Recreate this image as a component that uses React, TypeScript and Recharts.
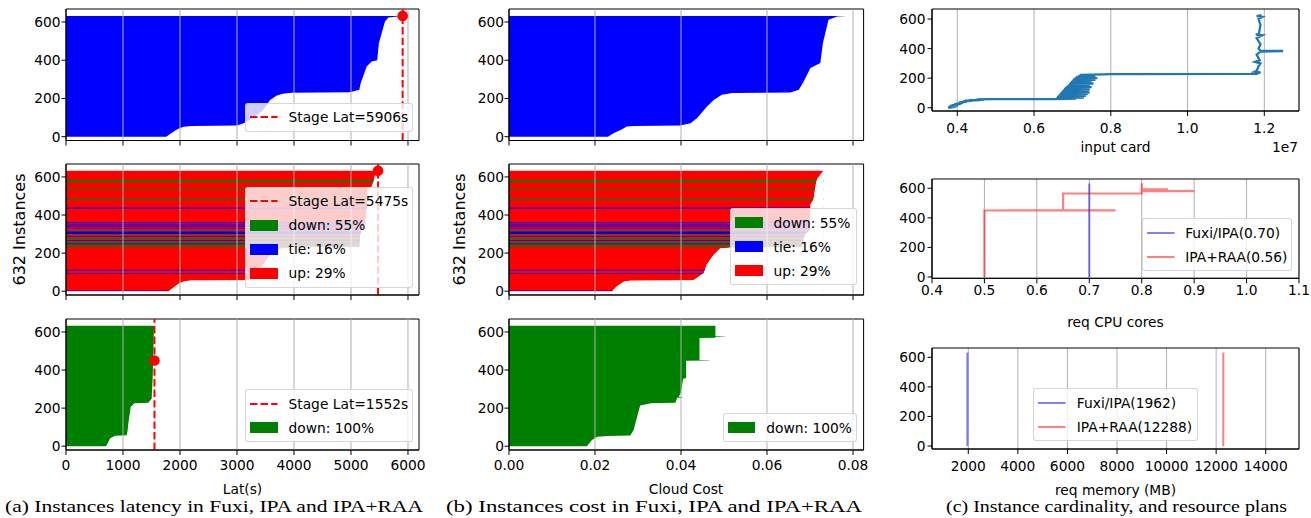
import React from "react";
import {
  ComposedChart,
  Area,
  Line,
  XAxis,
  YAxis,
  CartesianGrid,
  ReferenceLine,
  ReferenceDot,
  ReferenceArea,
} from "recharts";

const FONT = "DejaVu Sans";
const FS = 13.8;

// [instance index, bar end] (instances sorted)
const fuxiLat = [
  [0, 1760], [15, 1830], [40, 1960], [52, 2060], [56, 2200], [58, 2990], [66, 3080],
  [80, 3180], [100, 3300], [140, 3460], [192, 3580], [215, 3700], [225, 3800], [230, 3950],
  [233, 4980], [245, 5146], [280, 5170], [367, 5275], [393, 5363], [400, 5460], [490, 5490],
  [603, 5596], [624, 5655], [628, 5780], [632, 5890],
];
const ipaLat = [
  [0, 1800], [15, 1870], [40, 1980], [52, 2080], [56, 2200], [58, 3200], [79, 3290],
  [100, 3350], [140, 3460], [192, 3580], [215, 3690], [225, 3800], [229, 3950], [231, 5150],
  [300, 5165], [355, 5250], [440, 5280], [540, 5290], [548, 5363], [583, 5403], [609, 5421],
  [632, 5470],
];
const raaLat = [
  [0, 700], [20, 740], [41, 772], [55, 860], [57, 1065], [80, 1080], [119, 1093],
  [206, 1135], [226, 1200], [228, 1444], [249, 1503], [361, 1521], [632, 1544],
];
const fuxiCost = [
  [0, 0.023], [18, 0.0243], [39, 0.0263], [53, 0.0274], [56, 0.029], [58, 0.0398],
  [70, 0.0422], [96, 0.0437], [157, 0.046], [192, 0.0476], [219, 0.0495], [228, 0.0519],
  [231, 0.0654], [245, 0.0674], [288, 0.0685], [359, 0.0701], [385, 0.0724], [490, 0.073],
  [612, 0.0743], [629, 0.0763], [632, 0.0786],
];
const ipaCost = [
  [0, 0.024], [26, 0.0251], [49, 0.0267], [55, 0.028], [57, 0.0429], [96, 0.0453],
  [140, 0.046], [192, 0.0476], [224, 0.0491], [229, 0.052], [231, 0.068], [300, 0.0689],
  [320, 0.07], [455, 0.0701], [480, 0.0708], [580, 0.0715], [590, 0.0717], [612, 0.0724],
  [632, 0.0731],
];
const raaCost = [
  [0, 0.0181], [33, 0.0193], [50, 0.0205], [54, 0.023], [56, 0.0282], [85, 0.029],
  [154, 0.0298], [214, 0.0305], [226, 0.033], [228, 0.0387], [255, 0.0391], [256, 0.0403],
  [259, 0.0403], [260, 0.0395], [283, 0.04], [353, 0.0405], [360, 0.0412], [449, 0.0412],
  [450, 0.0467], [452, 0.0467], [453, 0.0443], [568, 0.0443], [569, 0.048], [575, 0.048],
  [576, 0.0503], [578, 0.0503], [579, 0.048], [632, 0.048],
];

// IPA instances that went down / tied (instance ranges), the rest are "up"
const downRanges = [
  [574, 584], [532, 537], [479, 485], [316, 320], [294, 298], [272, 279], [251, 259], [234, 243],
];
const tieRanges = [
  [433, 439], [357, 363], [345, 350], [337, 341], [329, 333], [300, 313], [285, 289],
  [264, 268], [247, 250], [107, 112], [90, 94], [1, 4],
];

const stageLat = [5906, 5475, 1552];
const stageDotAt = [632, 632, 450];

// [instance, input cardinality]
const inputCard = [
  [0, 3.85e6], [2, 3.76e6], [4, 3.95e6], [6, 3.78e6], [8, 3.98e6], [10, 3.8e6], [12, 4.0e6],
  [14, 3.82e6], [16, 4.02e6], [18, 3.86e6], [21, 4.05e6], [24, 3.92e6], [27, 4.1e6],
  [30, 3.98e6], [33, 4.15e6], [36, 4.05e6], [40, 4.25e6], [44, 4.15e6], [46, 4.4e6],
  [48, 4.2e6], [50, 4.6e6], [52, 4.3e6], [54, 4.7e6], [56, 4.5e6], [58, 4.9e6], [59, 6.55e6],
  [62, 7.1e6], [65, 6.58e6], [68, 7.3e6], [71, 6.6e6], [74, 7.2e6], [77, 6.62e6], [80, 7.35e6],
  [83, 6.64e6], [86, 7.2e6], [89, 6.66e6], [92, 7.4e6], [95, 6.68e6], [98, 7.3e6],
  [101, 6.7e6], [104, 7.45e6], [107, 6.72e6], [110, 7.25e6], [113, 6.74e6], [116, 7.4e6],
  [119, 6.76e6], [122, 7.45e6], [125, 6.78e6], [128, 7.3e6], [131, 6.8e6], [134, 7.4e6],
  [137, 6.82e6], [140, 7.5e6], [143, 6.85e6], [146, 7.35e6], [149, 6.88e6], [152, 7.45e6],
  [155, 6.9e6], [158, 7.4e6], [161, 6.92e6], [164, 7.55e6], [167, 6.94e6], [170, 7.4e6],
  [173, 6.96e6], [176, 7.5e6], [179, 6.98e6], [182, 7.45e6], [185, 7.0e6], [188, 7.6e6],
  [191, 7.02e6], [194, 7.5e6], [197, 7.05e6], [200, 7.65e6], [203, 7.08e6], [206, 7.55e6],
  [209, 7.1e6], [212, 7.6e6], [215, 7.15e6], [218, 7.5e6], [222, 7.2e6], [226, 7.8e6],
  [228, 8.0e6], [229, 1.18e7], [240, 1.19e7], [244, 1.175e7], [250, 1.18e7], [280, 1.185e7],
  [300, 1.19e7], [310, 1.176e7], [320, 1.188e7], [360, 1.18e7], [380, 1.19e7], [384, 1.249e7],
  [386, 1.19e7], [400, 1.185e7], [430, 1.19e7], [470, 1.18e7], [490, 1.195e7], [494, 1.178e7],
  [500, 1.186e7], [560, 1.19e7], [600, 1.185e7], [615, 1.195e7], [620, 1.18e7], [625, 1.19e7],
  [632, 1.19e7],
];
const fuxiCpu = [[0, 0.7], [632, 0.7]];
const raaCpu = [
  [0, 0.5], [450, 0.5], [451, 0.75], [452, 0.65], [565, 0.65], [566, 0.8], [580, 0.8],
  [581, 0.9], [582, 0.8], [592, 0.8], [593, 0.85], [594, 0.8], [634, 0.8],
];
const fuxiMem = [[0, 1962], [632, 1962]];
const raaMem = [[0, 12288], [632, 12288]];

const latTicks = [0, 1000, 2000, 3000, 4000, 5000, 6000];
const costTicks = [0, 0.02, 0.04, 0.06, 0.08];
const cardTicks = [4e6, 6e6, 8e6, 1e7, 1.2e7];
const cpuTicks = [0.4, 0.5, 0.6, 0.7, 0.8, 0.9, 1.0, 1.1];
const memTicks = [2000, 4000, 6000, 8000, 10000, 12000, 14000];
const instTicks = [0, 200, 400, 600];

const toPts = (rows: number[][]) => rows.map(([y, x]) => ({ y, x }));

type Box = { l: number; t: number; w: number; h: number };

function Panel(props: {
  box: Box;
  layout: "vertical" | "horizontal";
  xDomain: [number, number];
  yDomain: [number, number];
  xTicks: number[];
  fmt?: (v: number) => string;
  xGap: number;
  yGap: number;
  children: React.ReactNode;
}) {
  const { box, layout, xDomain, yDomain, xTicks, fmt, xGap, yGap, children } = props;
  const YW = 50, MT = 6, MR = 14, XH = 34;
  const tick = { fontSize: FS, fill: "#000", fontFamily: FONT };
  return (
    <div style={{ position: "absolute", left: box.l - YW, top: box.t - MT }}>
      <ComposedChart
        width={box.w + YW + MR}
        height={box.h + MT + XH}
        layout={layout}
        margin={{ top: MT, right: MR, bottom: 0, left: 0 }}
      >
        {children}
        <ReferenceArea
          x1={xDomain[0]} x2={xDomain[1]} y1={yDomain[0]} y2={yDomain[1]}
          fill="none" fillOpacity={0} stroke="#000" strokeWidth={1} ifOverflow="visible"
        />
        <XAxis
          type="number"
          dataKey={layout === "horizontal" ? "x" : undefined}
          domain={xDomain}
          allowDataOverflow
          ticks={xTicks}
          interval={0}
          tickFormatter={fmt ?? (() => "")}
          tick={tick}
          tickSize={5}
          tickMargin={xGap}
          height={XH}
          stroke="#000"
        />
        <YAxis
          type="number"
          dataKey={layout === "vertical" ? "y" : undefined}
          domain={yDomain}
          reversed={layout === "vertical"}
          allowDataOverflow
          ticks={instTicks}
          interval={0}
          tick={tick}
          tickSize={4.5}
          tickMargin={yGap}
          width={YW}
          stroke="#000"
        />
      </ComposedChart>
    </div>
  );
}

const fill = (rows: number[][], color: string, key: string, base?: number) => (
  <Area
    key={key}
    data={toPts(rows)}
    dataKey="x"
    type="linear"
    fill={color}
    fillOpacity={1}
    stroke="none"
    baseValue={base}
    isAnimationActive={false}
  />
);

const stripes = (ranges: number[][], end: number, color: string, key: string) =>
  ranges.map((r, i) => fill([[r[0], end], [r[1], end]], color, key + i));

const grid = (ticks: number[]) =>
  ticks
    .filter((t) => t > 0)
    .map((t) => <ReferenceLine key={"g" + t} x={t} stroke="#b0b0b0" strokeWidth={1} />);

const stage = (i: number) => [
  <ReferenceLine key="sl" x={stageLat[i]} stroke="#ff0000" strokeWidth={2} strokeDasharray="7.4 3.2" />,
  <ReferenceDot key="sd" x={stageLat[i]} y={stageDotAt[i]} r={5.3} fill="#ff0000" stroke="none" ifOverflow="visible" />,
];

const maxOf = (rows: number[][]) => Math.max(...rows.map((r) => r[1]));

type Item = { kind: "dash" | "patch" | "line"; color: string; label: string };

function Legend({ l, t, w, items }: { l: number; t: number; w: number; items: Item[] }) {
  return (
    <div
      style={{
        position: "absolute", left: l, top: t, width: w, boxSizing: "border-box",
        padding: "1.5px 0", background: "rgba(255,255,255,0.8)",
        border: "1px solid rgba(204,204,204,0.8)", borderRadius: 3,
        fontFamily: FONT, fontSize: FS, color: "#000",
      }}
    >
      {items.map((it) => (
        <div key={it.label} style={{ position: "relative", height: 24 }}>
          {it.kind === "patch" ? (
            <div style={{ position: "absolute", left: 4, top: 6.5, width: 27.5, height: 11, background: it.color }} />
          ) : (
            <svg width={28} height={12} style={{ position: "absolute", left: 4, top: 6 }}>
              <line
                x1={0} y1={6} x2={27.5} y2={6} stroke={it.color}
                strokeOpacity={it.kind === "line" ? 0.5 : 1} strokeWidth={2}
                strokeDasharray={it.kind === "dash" ? "7.4 3.2" : undefined}
              />
            </svg>
          )}
          <span style={{ position: "absolute", left: 42.5, top: 0, lineHeight: "24px", whiteSpace: "nowrap" }}>
            {it.label}
          </span>
        </div>
      ))}
    </div>
  );
}

const A = [{ l: 66, t: 9, w: 353, h: 131.5 }, { l: 66, t: 164, w: 353, h: 131 }, { l: 66, t: 319, w: 353, h: 131 }];
const B = [{ l: 508.7, t: 9, w: 354.6, h: 131.5 }, { l: 508.7, t: 164, w: 354.6, h: 131 }, { l: 508.7, t: 319, w: 354.6, h: 131 }];
const C = [{ l: 932, t: 9, w: 367, h: 102 }, { l: 932, t: 179, w: 367, h: 99.3 }, { l: 932, t: 348.3, w: 367, h: 101 }];

const latDom: [number, number] = [0, 6193];
const costDom: [number, number] = [0, 0.08246];
const abY: [number, number] = [-20, 668];

const BLUE = "#0000ff", GREEN = "#008000", RED = "#ff0000";

export default function App() {
  const latFmt = (v: number) => String(v);
  const costFmt = (v: number) => v.toFixed(2);
  return (
    <div style={{ position: "absolute", left: 0, top: 0, width: 1311, height: 518, background: "#fff", overflow: "hidden", fontFamily: FONT }}>
      {/* (a) latency */}
      <Panel box={A[0]} layout="vertical" xDomain={latDom} yDomain={abY} xTicks={latTicks} xGap={5} yGap={1}>
        {fill(fuxiLat, BLUE, "f")}
        {grid(latTicks)}
        {stage(0)}
      </Panel>
      <Panel box={A[1]} layout="vertical" xDomain={latDom} yDomain={abY} xTicks={latTicks} xGap={5} yGap={1}>
        {fill(ipaLat, RED, "f")}
        {stripes(downRanges, maxOf(ipaLat), GREEN, "d")}
        {stripes(tieRanges, maxOf(ipaLat), BLUE, "t")}
        {fill(ipaLat, "#ffffff", "w", maxOf(ipaLat))}
        {grid(latTicks)}
        {stage(1)}
      </Panel>
      <Panel box={A[2]} layout="vertical" xDomain={latDom} yDomain={abY} xTicks={latTicks} fmt={latFmt} xGap={5} yGap={1}>
        {fill(raaLat, GREEN, "f")}
        {grid(latTicks)}
        {stage(2)}
      </Panel>

      {/* (b) cost */}
      <Panel box={B[0]} layout="vertical" xDomain={costDom} yDomain={abY} xTicks={costTicks} xGap={5} yGap={0.5}>
        {fill(fuxiCost, BLUE, "f")}
        {grid(costTicks)}
      </Panel>
      <Panel box={B[1]} layout="vertical" xDomain={costDom} yDomain={abY} xTicks={costTicks} xGap={5} yGap={0.5}>
        {fill(ipaCost, RED, "f")}
        {stripes(downRanges, maxOf(ipaCost), GREEN, "d")}
        {stripes(tieRanges, maxOf(ipaCost), BLUE, "t")}
        {fill(ipaCost, "#ffffff", "w", maxOf(ipaCost))}
        {grid(costTicks)}
      </Panel>
      <Panel box={B[2]} layout="vertical" xDomain={costDom} yDomain={abY} xTicks={costTicks} fmt={costFmt} xGap={5} yGap={0.5}>
        {fill(raaCost, GREEN, "f")}
        {grid(costTicks)}
      </Panel>

      {/* (c) cardinality and plans */}
      <Panel box={C[0]} layout="horizontal" xDomain={[3.341e6, 1.2904e7]} yDomain={[-22, 668]} xTicks={cardTicks} fmt={(v) => (v / 1e7).toFixed(1)} xGap={7.3} yGap={2}>
        <CartesianGrid horizontal={false} stroke="#b0b0b0" />
        <Line data={toPts(inputCard)} dataKey="y" type="linear" stroke="#1f77b4" strokeWidth={2.3} dot={false} activeDot={false} isAnimationActive={false} />
      </Panel>
      <Panel box={C[1]} layout="horizontal" xDomain={[0.4, 1.1]} yDomain={[-9, 663]} xTicks={cpuTicks} fmt={(v) => v.toFixed(1)} xGap={1.7} yGap={2}>
        <CartesianGrid horizontal={false} stroke="#b0b0b0" />
        <Line data={toPts(fuxiCpu)} dataKey="y" type="linear" stroke={BLUE} strokeOpacity={0.5} strokeWidth={2} dot={false} activeDot={false} isAnimationActive={false} />
        <Line data={toPts(raaCpu)} dataKey="y" type="linear" stroke={RED} strokeOpacity={0.5} strokeWidth={2.2} dot={false} activeDot={false} isAnimationActive={false} />
      </Panel>
      <Panel box={C[2]} layout="horizontal" xDomain={[536, 15343]} yDomain={[-20, 663]} xTicks={memTicks} fmt={(v) => String(v)} xGap={7.4} yGap={2}>
        <CartesianGrid horizontal={false} stroke="#b0b0b0" />
        <Line data={toPts(fuxiMem)} dataKey="y" type="linear" stroke={BLUE} strokeOpacity={0.5} strokeWidth={2} dot={false} activeDot={false} isAnimationActive={false} />
        <Line data={toPts(raaMem)} dataKey="y" type="linear" stroke={RED} strokeOpacity={0.5} strokeWidth={2} dot={false} activeDot={false} isAnimationActive={false} />
      </Panel>

      <Legend l={245} t={102.7} w={167.7} items={[{ kind: "dash", color: RED, label: "Stage Lat=5906s" }]} />
      <Legend
        l={245} t={186.7} w={167.7}
        items={[
          { kind: "dash", color: RED, label: "Stage Lat=5475s" },
          { kind: "patch", color: GREEN, label: "down: 55%" },
          { kind: "patch", color: BLUE, label: "tie: 16%" },
          { kind: "patch", color: RED, label: "up: 29%" },
        ]}
      />
      <Legend
        l={245} t={389} w={167.7}
        items={[
          { kind: "dash", color: RED, label: "Stage Lat=1552s" },
          { kind: "patch", color: GREEN, label: "down: 100%" },
        ]}
      />
      <Legend
        l={730} t={208.3} w={127.3}
        items={[
          { kind: "patch", color: GREEN, label: "down: 55%" },
          { kind: "patch", color: BLUE, label: "tie: 16%" },
          { kind: "patch", color: RED, label: "up: 29%" },
        ]}
      />
      <Legend l={722.7} t={413.3} w={134} items={[{ kind: "patch", color: GREEN, label: "down: 100%" }]} />
      <Legend
        l={1141.7} t={218.3} w={150}
        items={[
          { kind: "line", color: BLUE, label: "Fuxi/IPA(0.70)" },
          { kind: "line", color: RED, label: "IPA+RAA(0.56)" },
        ]}
      />
      <Legend
        l={1033.3} t={388.3} w={165}
        items={[
          { kind: "line", color: BLUE, label: "Fuxi/IPA(1962)" },
          { kind: "line", color: RED, label: "IPA+RAA(12288)" },
        ]}
      />

      <svg width={1311} height={518} style={{ position: "absolute", left: 0, top: 0, pointerEvents: "none" }}>
        <g fontFamily={FONT} fontSize={FS} fill="#000">
          <text transform="translate(25,229.5) rotate(-90)" textAnchor="middle" fontSize={16}>632 Instances</text>
          <text transform="translate(465,229.5) rotate(-90)" textAnchor="middle" fontSize={16}>632 Instances</text>
          <text x={242.5} y={493.5} textAnchor="middle">Lat(s)</text>
          <text x={686} y={493.5} textAnchor="middle">Cloud Cost</text>
          <text x={1115.5} y={152} textAnchor="middle">input card</text>
          <text x={1298} y={152.3} textAnchor="end">1e7</text>
          <text x={1115.5} y={326.5} textAnchor="middle">req CPU cores</text>
          <text x={1115.5} y={494.5} textAnchor="middle">req memory (MB)</text>
        </g>
        <g fontFamily="Liberation Serif" fontSize={17} fill="#000">
          <text x={5} y={511.5} textLength={418} lengthAdjust="spacingAndGlyphs">(a) Instances latency in Fuxi, IPA and IPA+RAA</text>
          <text x={446} y={511.5} textLength={416} lengthAdjust="spacingAndGlyphs">(b) Instances cost in Fuxi, IPA and IPA+RAA</text>
          <text x={946} y={511.5} textLength={341} lengthAdjust="spacingAndGlyphs">(c) Instance cardinality, and resource plans</text>
        </g>
      </svg>
    </div>
  );
}
